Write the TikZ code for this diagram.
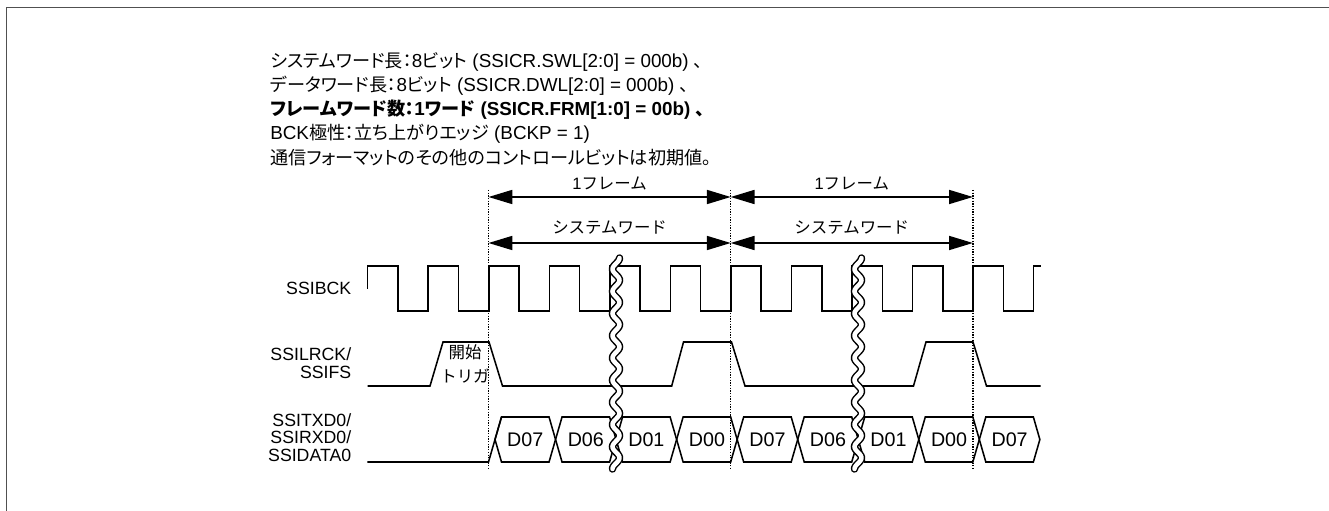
\documentclass[tikz,border=0pt]{standalone}
\usepackage{fontspec}
\setmainfont{Liberation Sans}
\newfontfamily\jp{Noto Sans CJK JP}
\newfontfamily\jpp[RawFeature=+palt]{Noto Sans CJK JP}
\newcommand\jt[1]{{\jpp\fontsize{12.9}{16}\selectfont #1}}
\usetikzlibrary{arrows.meta}
\definecolor{cframe}{RGB}{80,80,80}

\begin{document}
\begin{tikzpicture}[
  x=0.025cm,y=-0.025cm,
  sig/.style={line width=1.1pt},
  guide/.style={densely dotted,line width=0.9pt},
  arrow/.style={{Triangle[length=17pt,width=10pt]}-{Triangle[length=17pt,width=10pt]},line width=1.1pt},
  txt/.style={anchor=west,inner sep=0pt,font=\fontsize{13.4}{16}\selectfont},
  hdr/.style={anchor=center,inner sep=0pt,font=\fontsize{11.7}{14}\selectfont},
  rlab/.style={anchor=east,align=right,inner sep=0pt,font=\fontsize{12.6}{12.4}\selectfont},
  dlab/.style={anchor=center,inner sep=0pt,font=\fontsize{14}{16}\selectfont}
]
\useasboundingbox (0,0) rectangle (1329,511);
\draw[cframe,line width=1.4pt] (6.5,511) -- (6.5,7.5) -- (1329,7.5);

% ---- settings text ----
\node[txt] (l1) at (270,62) {\jt{システムワード長：}8\jt{ビット} (SSICR.SWL[2:0] = 000b) \jt{、}};
\node[txt] (l2) at (270,86) {\jt{データワード長：}8\jt{ビット} (SSICR.DWL[2:0] = 000b) \jt{、}};
\node[txt] (l3) at (270,110) {\bfseries\jt{フレームワード数：}1\jt{ワード} (SSICR.FRM[1:0] = 00b) \jt{、}};
\node[txt] (l4) at (270,134) {BCK\jt{極性：立ち上がりエッジ} (BCKP = 1)};
\node[txt] (l5) at (270,158) {\jt{通信フォーマットのその他のコントロールビットは初期値。}};

% ---- frame guides ----
\foreach \x [count=\i from 0] in {488.5,730.7,972.9} {
  \coordinate (f\i) at (\x,190);
  \coordinate (a\i) at (\x,197);
  \coordinate (b\i) at (\x,243);
  \draw[guide] (f\i) -- (\x,470);
}
\draw[arrow] (a0) -- (a1);
\draw[arrow] (a1) -- (a2);
\draw[arrow] (b0) -- (b1);
\draw[arrow] (b1) -- (b2);
\node[hdr] (fr1) at (609.6,183) {1{\jp フレーム}};
\node[hdr] (fr2) at (851.8,183) {1{\jp フレーム}};
\node[hdr] (sw1) at (609.6,228) {{\jp システムワード}};
\node[hdr] (sw2) at (851.8,228) {{\jp システムワード}};

% ================= SSIBCK =================
\node[rlab] (bck) at (351.5,288) {SSIBCK};
\draw[sig] (367.7,289) -- (367.7,266)
  \foreach \j in {0,...,10} {
    -- ({367.7+(2*\j+1)*30.27},266) -- ({367.7+(2*\j+1)*30.27},311)
    -- ({367.7+(2*\j+2)*30.27},311) -- ({367.7+(2*\j+2)*30.27},266)
  } -- (1040.7,266);

% ================= SSILRCK =================
\node[rlab] (lrck) at (351.5,363) {SSILRCK/\\SSIFS};
\draw[sig] (367.7,386) -- (430,386) -- (443,342) -- (489,342) -- (502.5,386)
  -- (671.7,386) -- (683.5,342) -- (731.5,342) -- (745,386)
  -- (913.5,386) -- (926,342) -- (973,342) -- (986.5,386) -- (1040.7,386);
\node[hdr,align=center,font=\fontsize{11.7}{17}\selectfont\jp] (trg) at (465,364) {開始\\トリガ};

% ================= SSIDATA =================
\node[rlab] (dat) at (351.5,437.5) {SSITXD0/\\SSIRXD0/\\SSIDATA0};
\draw[sig] (367.3,462) -- (488.5,462) -- (501.5,417);
\foreach \v [count=\i from 0] in {D07,D06,D01,D00,D07,D06,D01,D00,D07} {
  \pgfmathsetmacro\ca{495+60.54*\i}
  \pgfmathsetmacro\cb{495+60.54*(\i+1)}
  \draw[sig] (\ca,439.5) -- ({\ca+6.5},417) -- ({\cb-6.5},417) -- (\cb,439.5)
    -- ({\cb-6.5},462) -- ({\ca+6.5},462) -- cycle;
  \node[dlab] (d-\i) at ({(\ca+\cb)/2},439.5) {\v};
}

% ================= breaks =================
\foreach \bx in {616,858} {
  \draw[line width=5.3pt,line cap=round] plot[domain=258:469,samples=160,smooth]
    ({\bx+3.5*sin((\x-258)*16.216+90)},\x);
  \draw[white,line width=3.2pt,line cap=round] plot[domain=258:469,samples=160,smooth]
    ({\bx+3.5*sin((\x-258)*16.216+90)},\x);
}
\end{tikzpicture}
\end{document}
